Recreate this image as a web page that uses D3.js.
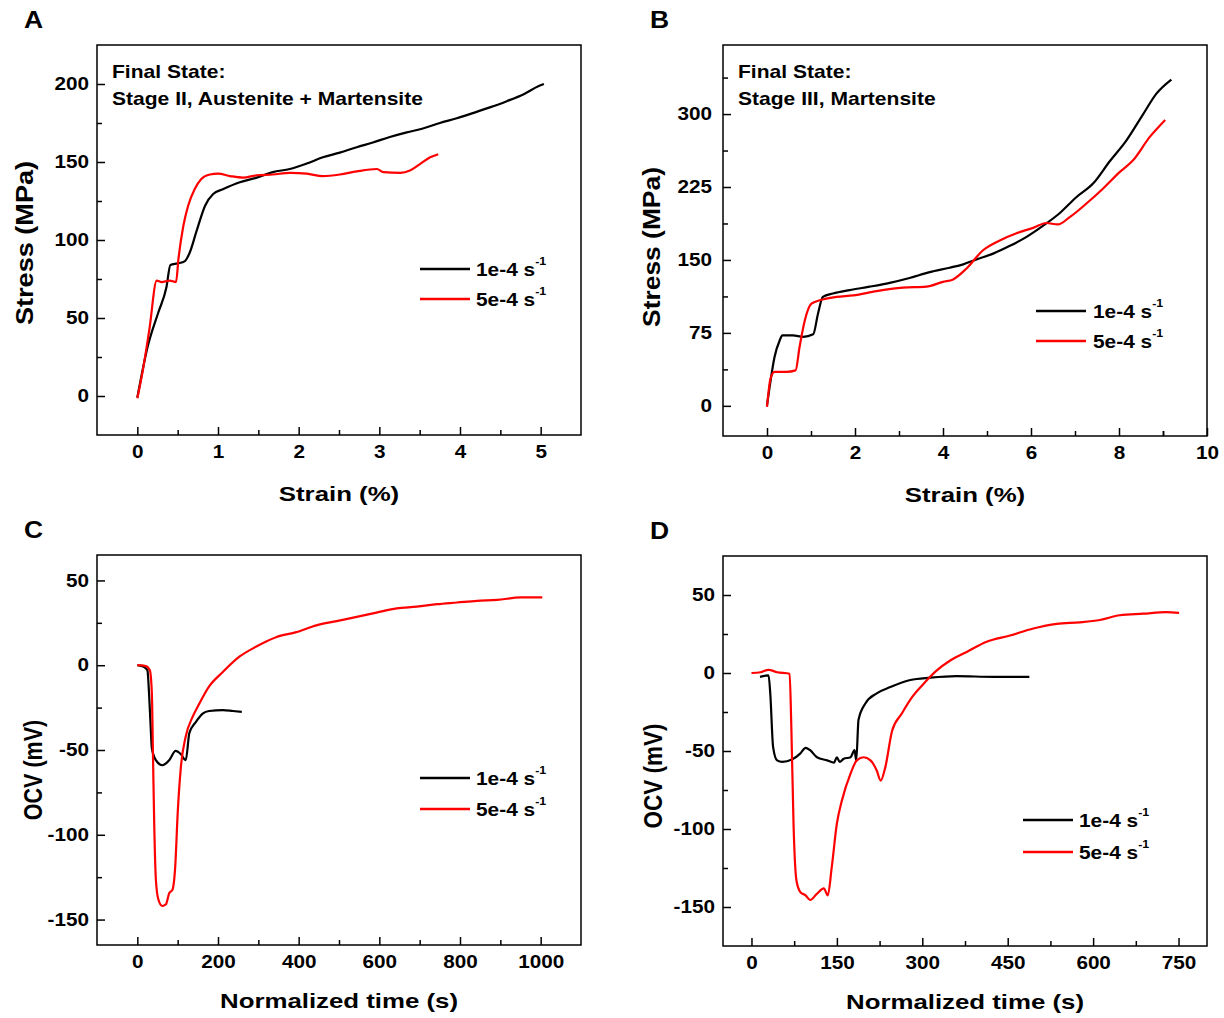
<!DOCTYPE html>
<html lang="en">
<head>
<meta charset="utf-8">
<title>Stress-strain and OCV at two strain rates</title>
<style>
   html,body { margin:0; padding:0; background:white; }
   svg { display:block; font-family:"Liberation Sans",Arial,sans-serif; font-weight:bold; }
</style>
<script src="https://d3js.org/d3.v7.min.js"></script>
</head>
<body>
<script>
// A: stress-strain, final state stage II
let aBlackStrain = [0,0.13,0.26,0.36,0.41,0.5,0.59,0.65,0.73,0.84,0.94,1.06,1.27,1.48,1.68,1.89,2.1,2.3,2.51,2.72,2.92,3.13,3.34,3.54,3.75,3.96,4.17,4.37,4.58,4.79,4.97,5.04];
let aBlackStress = [-1,32,53.5,69.5,84,85,86.5,92,105,122,129.5,132.5,137,140,143.5,145.5,149,153,156,159.5,162.5,166,169,171.5,175,178,181.5,185,189,193.5,198.5,200];
let aRedStrain = [0,0.07,0.15,0.24,0.3,0.4,0.48,0.51,0.57,0.63,0.71,0.79,0.9,1.0,1.15,1.31,1.48,1.68,1.89,2.1,2.3,2.51,2.72,2.97,3.05,3.26,3.38,3.5,3.63,3.73];
let aRedStress = [-1.5,17,43,74,73,74,73,88,109,122,132.5,139,142,142.5,141,140,141.5,142,143,142.5,141,142,144,145.5,143.5,143,144.5,148.5,153,155];

// B: stress-strain, final state stage III
let bBlackStrain = [0,0.06,0.17,0.29,0.35,0.59,0.82,1.05,1.16,1.27,1.5,1.88,2.33,2.79,3.24,3.7,4.15,4.46,4.76,5.14,5.52,5.89,6.27,6.65,7.03,7.41,7.79,8.17,8.55,8.85,9.19];
let bBlackStress = [0.5,19.5,50,67.5,72.5,72.5,71,73.5,95,112,115.5,119,122.5,126.5,131.5,137.5,142,145.5,150.5,156.5,164.5,173.5,185,198,214.5,228.5,251.5,273,300,321,335.5];
let bRedStrain = [0,0.08,0.17,0.44,0.65,0.74,0.86,1.01,1.2,1.58,1.96,2.49,3.09,3.62,4.0,4.23,4.53,4.91,5.29,5.67,6.05,6.35,6.61,6.88,7.26,7.64,8.02,8.32,8.7,9.05];
let bRedStress = [-1,28,35,35,36.5,60.5,88,105,108.5,112,113.5,118,121.5,122.5,127.5,130,141,160,170,177.5,183,188,186.5,194,208,223.5,240.5,252.5,276.5,294];

// C: OCV vs normalized time (stage II test)
let cBlackTime = [0,17,25,29,33,36,46,62,79,95,108,120,129,145,162,178,212,237,259];
let cBlackOcv = [0,-1,-3,-16.5,-36,-49,-56,-59,-56,-50.5,-52.5,-56,-40,-33.5,-28.5,-27,-26.5,-27,-27.5];
let cRedTime = [0,21,31,36,39,42,46,52,62,71,79,87,94,100,108,120,137,154,178,212,253,295,344,394,444,494,544,593,643,693,743,793,842,892,950,1004];
let cRedOcv = [0,-0.5,-3,-16.5,-56,-95,-126.5,-138,-142,-141,-134.5,-132.5,-118.5,-87.5,-60,-42,-30.5,-22.5,-12.5,-4,5,11,16.5,19.5,23.5,26,28.5,31,33.5,34.5,36,37,38,38.5,40,40];

// D: OCV vs normalized time (stage III test)
let dBlackTime = [15,30,33,38,45,54,71,86,95,103,115,133,145,150,155,162,174,181,184,188,200,220,244,279,314,360,425,488];
let dBlackOcv = [-2.5,-1.5,-13,-47.5,-56,-57,-55.5,-51.5,-48,-49.5,-54,-56,-57.5,-54,-57,-55,-54,-49.5,-56,-30,-19.5,-13,-9,-4.5,-3,-2,-2.5,-2.5];
let dRedTime = [0,16,30,45,67,70,74,79,86,95,103,115,127,134,141,150,159,174,185,197,209,220,227,235,247,264,282,302,325,349,378,413,454,495,536,577,612,647,688,728,751];
let dRedOcv = [0,0.5,2,0.5,-0.5,-34.5,-98.5,-133,-140.5,-142.5,-145.5,-141.5,-138,-142.5,-124.5,-96.5,-81.5,-64.5,-56,-54,-56,-62.5,-69,-60.5,-37,-26,-15.5,-7,1.5,8,13.5,20,24,28.5,31.5,32.5,34,37,38,39,38.5];

// ticks
let aXTicks = [0,1,2,3,4,5];
let aYTicks = [0,50,100,150,200];
let bXTicks = [0,2,4,6,8,10];
let bYTicks = [0,75,150,225,300];
let cXTicks = [0,200,400,600,800,1000];
let dXTicks = [0,150,300,450,600,750];
let ocvYTicks = [-150,-100,-50,0,50];

let legendLabels = ['1e-4 s','5e-4 s'];
let lineColors = ['black','#ff0000'];

let W = 1224, H = 1018;
const svg = d3.select('body').append('svg').attr('width',W).attr('height',H);
svg.append('rect').attr('width',W).attr('height',H).attr('fill','white');

// text stretched horizontally like the source figure
function fstext(g,str,x,y,size,sx,anchor='start',rot=0) {
   return g.append('text')
      .attr('transform',`translate(${x},${y}) rotate(${rot}) scale(${sx},1)`)
      .attr('font-size',size)
      .attr('text-anchor',anchor)
      .text(str);
};
function fminor(ticks) { // midpoints between major ticks
   let m = [];
   for (let i=0;i<ticks.length-1;i++) { m.push((ticks[i]+ticks[i+1])/2); };
   return m;
};

function fpanel(p) {
   let x = d3.scaleLinear().domain(p.xdom).range([p.left,p.right]);
   let y = d3.scaleLinear().domain(p.ydom).range([p.bottom,p.top]);
   let g = svg.append('g');
   let fmt = d => String(d); // plain hyphen minus like the original
   let clean = a => a.attr('font-size',null).attr('font-family',null).call(s => s.select('.domain').remove());
   let xmin = fminor(p.xticks).concat(p.xextra||[]).filter(v => v>p.xdom[0] && v<p.xdom[1]);
   let ymin = fminor(p.yticks).concat(p.yextra||[]).filter(v => v>p.ydom[0] && v<p.ydom[1]);
   g.append('g').attr('transform',`translate(0,${p.bottom})`)
      .call(d3.axisBottom(x).tickValues(xmin).tickSizeInner(-5).tickSizeOuter(0).tickFormat(''))
      .call(clean);
   g.append('g').attr('transform',`translate(${p.left},0)`)
      .call(d3.axisLeft(y).tickValues(ymin).tickSizeInner(-5).tickSizeOuter(0).tickFormat(''))
      .call(clean);
   g.append('g').attr('transform',`translate(0,${p.bottom})`)
      .call(d3.axisBottom(x).tickValues(p.xticks).tickFormat(fmt).tickSizeInner(-8).tickSizeOuter(0).tickPadding(10))
      .call(clean)
      .call(a => a.selectAll('text').attr('font-size',18).attr('transform','scale(1.15,1)'));
   g.append('g').attr('transform',`translate(${p.left},0)`)
      .call(d3.axisLeft(y).tickValues(p.yticks).tickFormat(fmt).tickSizeInner(-8).tickSizeOuter(0).tickPadding(p.ypad))
      .call(clean)
      .call(a => a.selectAll('text').attr('font-size',18).attr('transform','scale(1.15,1)'));
   g.selectAll('.tick line').attr('stroke-width',1.5);

   let line = d3.line().curve(d3.curveMonotoneX).x(d => x(d[0])).y(d => y(d[1]));
   p.series.forEach((s,i) => {
      g.append('path').datum(d3.zip(s[0],s[1]))
         .attr('fill','none').attr('stroke',lineColors[i]).attr('stroke-width',2.2)
         .attr('stroke-linejoin','round').attr('d',line);
   });

   g.append('rect').attr('x',p.left).attr('y',p.top)
      .attr('width',p.right-p.left).attr('height',p.bottom-p.top)
      .attr('fill','none').attr('stroke','black').attr('stroke-width',1.5);

   // legend
   legendLabels.forEach((lab,i) => {
      let ly = p.leg[2]+i*p.leg[3];
      g.append('line').attr('x1',p.leg[0]).attr('x2',p.leg[0]+50).attr('y1',ly).attr('y2',ly)
         .attr('stroke',lineColors[i]).attr('stroke-width',2.5);
      let t = fstext(g,lab,p.leg[1],ly+7,18.5,1.13);
      t.append('tspan').attr('dy',-11).attr('font-size',11).text('-1');
   });

   // annotation
   if (p.note) {
      p.note.forEach((n,i) => { fstext(g,n,p.left+15,78+i*27,18,1.17); });
   };

   // titles and panel letter
   fstext(g,p.xtitle,(p.left+p.right)/2,p.bottom+p.xtitleOff,21,1.23,'middle');
   fstext(g,p.ytitle,p.ytitlePos[0],p.ytitlePos[1],p.ytitleSize[0],p.ytitleSize[1],'middle',-90);
   fstext(g,p.letter,p.left-73,p.top-17,23,1.15);
};

let panels = [
   {letter:'A', left:97, right:581, top:45, bottom:435, xdom:[-0.5,5.5], ydom:[-25,225],
      xticks:aXTicks, yticks:aYTicks, yextra:[-25,225], ypad:7,
      series:[[aBlackStrain,aBlackStress],[aRedStrain,aRedStress]],
      leg:[420,476,269,30], note:['Final State:','Stage II, Austenite + Martensite'],
      xtitle:'Strain (%)', xtitleOff:66, ytitle:'Stress (MPa)', ytitlePos:[33,243], ytitleSize:[24,1.13]},
   {letter:'B', left:723, right:1207, top:45, bottom:436, xdom:[-1,10], ydom:[-31,371],
      xticks:bXTicks, yticks:bYTicks, xextra:[9], yextra:[337.5], ypad:9.5,
      series:[[bBlackStrain,bBlackStress],[bRedStrain,bRedStress]],
      leg:[1036,1093,311,30], note:['Final State:','Stage III, Martensite'],
      xtitle:'Strain (%)', xtitleOff:66, ytitle:'Stress (MPa)', ytitlePos:[660,247], ytitleSize:[24,1.1]},
   {letter:'C', left:97, right:581, top:555, bottom:945, xdom:[-100,1100], ydom:[-165,65],
      xticks:cXTicks, yticks:ocvYTicks, ypad:7,
      series:[[cBlackTime,cBlackOcv],[cRedTime,cRedOcv]],
      leg:[420,476,778,31],
      xtitle:'Normalized time (s)', xtitleOff:63, ytitle:'OCV (mV)', ytitlePos:[42,770], ytitleSize:[25,0.86]},
   {letter:'D', left:723, right:1207, top:556, bottom:946, xdom:[-50,800], ydom:[-175,75],
      xticks:dXTicks, yticks:ocvYTicks, ypad:7,
      series:[[dBlackTime,dBlackOcv],[dRedTime,dRedOcv]],
      leg:[1023,1079,820,32],
      xtitle:'Normalized time (s)', xtitleOff:63, ytitle:'OCV (mV)', ytitlePos:[662,776], ytitleSize:[25,0.9]},
];
panels.forEach(fpanel);
</script>
</body>
</html>
